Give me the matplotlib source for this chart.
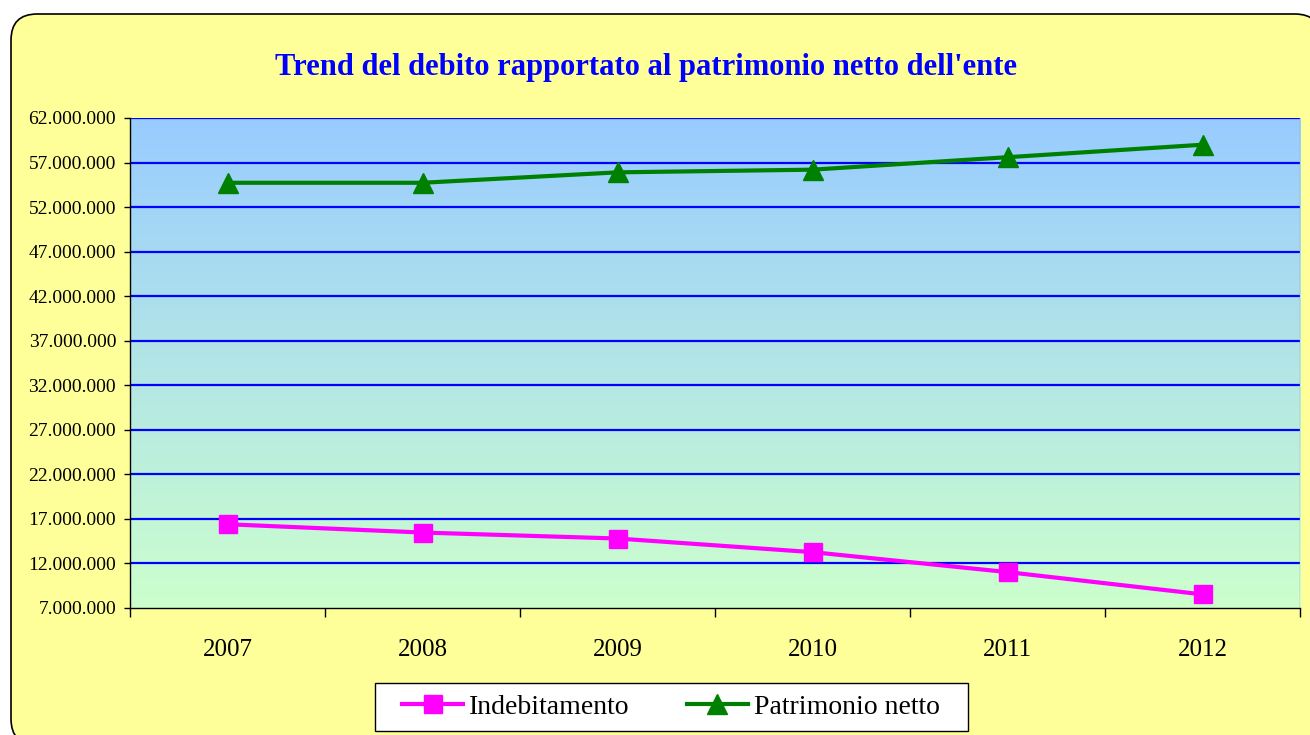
import numpy as np
import matplotlib.pyplot as plt
from matplotlib.patches import FancyBboxPatch, Rectangle
from matplotlib.ticker import FuncFormatter

# data
anni = ['2007', '2008', '2009', '2010', '2011', '2012']
indebitamento = [16400000, 15470000, 14800000, 13270000, 11030000, 8530000]
patrimonio = [54730000, 54730000, 55900000, 56200000, 57600000, 59000000]

plt.rcParams['font.family'] = ['Liberation Serif', 'DejaVu Serif']

W, H = 1310, 735
fig = plt.figure(figsize=(W / 100, H / 100), dpi=100)

# yellow rounded background
bg = FancyBboxPatch((11 / W, 1 - 745 / H), 1310 / W, 731 / H,
                    boxstyle='round,pad=0,rounding_size=0.02',
                    transform=fig.transFigure, facecolor='#FFFF99',
                    edgecolor='black', linewidth=1.2, mutation_aspect=W / H,
                    zorder=-10)
fig.patches.append(bg)

ax = fig.add_axes([130 / W, 1 - 608 / H, 1170 / W, 490 / H])
ax.patch.set_alpha(0)

x = np.arange(len(anni))

# gradient fill of the plot area
grad = np.linspace(0, 1, 256).reshape(-1, 1)
top = np.array([153, 204, 255]) / 255
bot = np.array([204, 255, 204]) / 255
img = top + (bot - top) * grad[:, :, None]
ax.imshow(img, extent=[-0.5, 5.5, 7000000, 62000000], aspect='auto',
          zorder=0, interpolation='bilinear')

ax.set_xlim(-0.5, 5.5)
ax.set_ylim(7000000, 62000000)

yt = np.arange(7000000, 62000001, 5000000)
ax.set_yticks(yt)
for v in yt[1:]:
    ax.axhline(v, color='#0000FF', linewidth=1.6, zorder=1)
ax.axvline(5.5, color='#A0A0A0', linewidth=1, zorder=1)

ax.plot(x, indebitamento, color='#FF00FF', linewidth=3, marker='s',
        markersize=13, label='Indebitamento', zorder=3)
ax.plot(x, patrimonio, color='#008000', linewidth=3, marker='^',
        markersize=14, label='Patrimonio netto', zorder=3)

ax.yaxis.set_major_formatter(FuncFormatter(lambda v, p: f'{int(v):,}'.replace(',', '.')))
ax.tick_params(axis='y', labelsize=14, direction='out', length=4, width=1, pad=6)

ax.set_xticks(np.arange(-0.5, 6, 1))
ax.set_xticklabels([])
ax.set_xticks(x, minor=True)
ax.set_xticklabels(anni, minor=True, fontsize=18)
ax.tick_params(axis='x', which='major', direction='out', length=6.5, width=1)
ax.tick_params(axis='x', which='minor', length=0, pad=22)

for s in ['top', 'right']:
    ax.spines[s].set_visible(False)
ax.spines['left'].set_linewidth(1)
ax.spines['bottom'].set_linewidth(1)

fig.text(646 / W, 1 - 68 / H, "Trend del debito rapportato al patrimonio netto dell'ente",
         ha='center', va='center', color='#0000FF', fontsize=22, fontweight='bold')

# legend box drawn separately so the padding can match
fig.patches.append(Rectangle((375 / W, 1 - 731 / H), 593 / W, 48 / H,
                             transform=fig.transFigure, facecolor='white',
                             edgecolor='black', linewidth=1, zorder=-5))
fig.legend(loc='center', bbox_to_anchor=(671 / W, 1 - 707 / H), ncol=2,
           fontsize=20, frameon=False, handlelength=2.2,
           columnspacing=2.05, borderpad=0.2, handletextpad=0.22)

fig.savefig('out.png', dpi=100)
